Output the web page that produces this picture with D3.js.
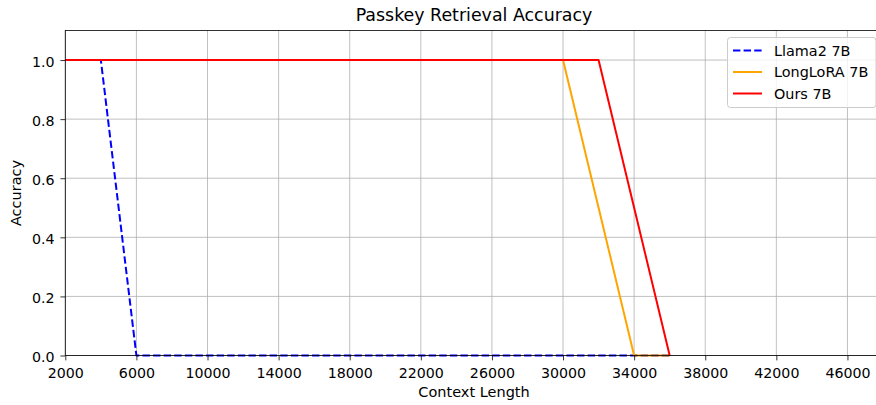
<!DOCTYPE html>
<html><head><meta charset="utf-8">
<script src="https://cdn.jsdelivr.net/npm/d3@7"></script>
<style>
html,body{margin:0;padding:0;background:#fff;overflow:hidden}
text{font-family:"DejaVu Sans",sans-serif;fill:#000}
</style></head><body>
<svg id="c" width="876" height="405"></svg>
<script>
const contextLengths = [2000,4000,6000,8000,10000,12000,14000,16000,18000,20000,22000,24000,26000,28000,30000,32000,34000,36000];
const llama2 = [1,1,0,0,0,0,0,0,0,0,0,0,0,0,0,0,0,0];
const longlora = [1,1,1,1,1,1,1,1,1,1,1,1,1,1,1,0.5,0,0];
const ours = [1,1,1,1,1,1,1,1,1,1,1,1,1,1,1,1,0.5,0];
const xTicks = [2000,6000,10000,14000,18000,22000,26000,30000,34000,38000,42000,46000];
const yTicks = [0,0.2,0.4,0.6,0.8,1.0];
const seriesNames = ["Llama2 7B","LongLoRA 7B","Ours 7B"];
const seriesColors = ["#0000ff","#ffa500","#ff0000"];

const svg = d3.select("#c");
const L=65.3, R=883, T=30.5, B=355.5;
const x = d3.scaleLinear().domain([2000,48000]).range([L,R]);
const y = d3.scaleLinear().domain([0,1.1]).range([B,T]);

// grid
const g = svg.append("g");
g.selectAll(".gx").data(xTicks).join("line")
  .attr("x1",d=>x(d)).attr("x2",d=>x(d)).attr("y1",T).attr("y2",B)
  .attr("stroke","#b0b0b0").attr("stroke-width",0.8);
g.selectAll(".gy").data(yTicks).join("line")
  .attr("x1",L).attr("x2",R).attr("y1",d=>y(d)).attr("y2",d=>y(d))
  .attr("stroke","#b0b0b0").attr("stroke-width",0.8);

// lines
const series = [llama2,longlora,ours];
const line = d3.line().x((d,i)=>x(contextLengths[i])).y(d=>y(d));
const plot = svg.append("g");
series.forEach((s,k)=>{
  plot.append("path").datum(s).attr("d",line).attr("fill","none")
    .attr("stroke",seriesColors[k]).attr("stroke-width",2)
    .attr("stroke-linejoin","round")
    .attr("stroke-dasharray",k===0?"7.4,3.2":null);
});

// axes
const xAxis = d3.axisBottom(x).tickValues(xTicks).tickFormat(d3.format("d")).tickSize(4.9).tickPadding(7.5);
const yAxis = d3.axisLeft(y).tickValues(yTicks).tickFormat(d3.format(".1f")).tickSize(4.9).tickPadding(5.8);
const xa = svg.append("g").attr("transform",`translate(0,${B})`).call(xAxis);
const ya = svg.append("g").attr("transform",`translate(${L},0)`).call(yAxis);
[xa,ya].forEach(a=>{
  a.select(".domain").remove();
  a.selectAll(".tick line").attr("stroke","#000").attr("stroke-width",0.8);
  a.selectAll(".tick text").attr("font-size","14.2px").attr("font-family","DejaVu Sans").attr("fill","#000");
});
ya.selectAll(".tick text").attr("dy","0.42em");
// spines
svg.append("rect").attr("x",L).attr("y",T).attr("width",R-L).attr("height",B-T)
  .attr("fill","none").attr("stroke","#000").attr("stroke-width",0.8);

// labels
svg.append("text").attr("x",474).attr("y",20.8).attr("text-anchor","middle")
  .attr("font-size","17.4px").text("Passkey Retrieval Accuracy");
svg.append("text").attr("x",474).attr("y",397).attr("text-anchor","middle")
  .attr("font-size","14.5px").text("Context Length");
svg.append("text").attr("transform",`translate(21,${(T+B)/2}) rotate(-90)`).attr("text-anchor","middle")
  .attr("font-size","14.5px").text("Accuracy");

// legend
const lg = svg.append("g");
lg.append("rect").attr("x",727.5).attr("y",37.5).attr("width",148.5).attr("height",70).attr("rx",3)
  .attr("fill","#fff").attr("fill-opacity",0.8).attr("stroke","#cccccc").attr("stroke-width",1);
seriesNames.forEach((n,k)=>{
  const yy = 50.5 + k*21.5;
  lg.append("line").attr("x1",733).attr("x2",762).attr("y1",yy).attr("y2",yy)
    .attr("stroke",seriesColors[k]).attr("stroke-width",2)
    .attr("stroke-dasharray",k===0?"7.4,3.2":null);
  lg.append("text").attr("x",774).attr("y",yy+5.2).attr("font-size","14.4px").text(n);
});
</script>
</body></html>
